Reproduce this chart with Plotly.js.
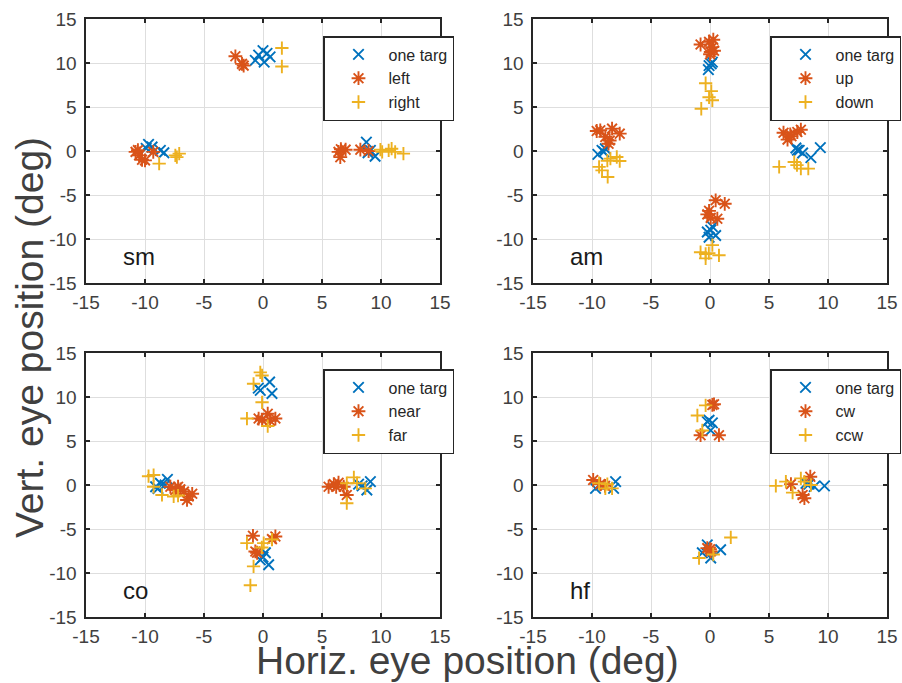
<!DOCTYPE html>
<html>
<head>
<meta charset="utf-8">
<script src="https://cdn.plot.ly/plotly-3.0.1.min.js"></script>
<style>html,body{margin:0;padding:0;background:#fff;}#chart{width:902px;height:683px;}</style>
</head>
<body>
<div id="chart"></div>
<script>
// ---- tick values / labels ----
var tickVals = [-15, -10, -5, 0, 5, 10, 15];
var tickLabels = ['-15', '-10', '-5', '0', '5', '10', '15'];

// ---- panel names and legend names ----
var panelNames = ['sm', 'am', 'co', 'hf'];
var seriesNames_sm = ['one targ', 'left', 'right'];
var seriesNames_am = ['one targ', 'up', 'down'];
var seriesNames_co = ['one targ', 'near', 'far'];
var seriesNames_hf = ['one targ', 'cw', 'ccw'];

// ---- sm ----
var sm_one_x = [0, -0.37, 0.34, 0.6, -0.65, 0.1, -9.7, -9.4, -8.7, -8.4, -9.9, 8.76, 9.1, 9.5, 8.9];
var sm_one_y = [11.4, 10.9, 11.1, 10.7, 10.3, 10.1, 0.76, 0.45, 0.08, -0.2, 0.3, 1.0, 0.08, -0.6, -0.2];
var sm_a_x = [-2.34, -1.78, -1.64, -10.8, -10.5, -10.25, -10.0, -9.3, -10.6, 6.4, 6.55, 7.0, 8.25, 8.95, 6.6];
var sm_a_y = [10.76, 9.9, 9.7, -0.1, -0.5, -1.0, -1.06, -0.1, 0.1, -0.1, -0.7, 0.15, 0.15, 0.0, 0.2];
var sm_b_x = [1.6, 1.6, -8.8, -7.43, -7.1, -7.3, 10.1, 10.65, 10.9, 11.2, 11.9, 9.95];
var sm_b_y = [11.7, 9.6, -1.44, -0.5, -0.3, -0.7, -0.1, 0.08, 0.26, -0.1, -0.3, 0.15];

// ---- am ----
var am_one_x = [-0.08, -0.14, 0.2, 0.1, -9.5, -9.15, -8.87, -9.0, 7.28, 7.56, 7.85, 8.55, 9.35, 7.4, -0.23, 0.2, 0.48, -0.08, 0.06];
var am_one_y = [9.7, 9.24, 10.1, 9.9, -0.38, 0.08, 0.26, -0.1, 0.34, 0.08, -0.23, -0.76, 0.38, 0.1, -9.2, -8.6, -9.6, -9.8, -9.0];
var am_a_x = [-0.8, -0.08, 0.28, 0.2, 0.06, 0.34, 0.0, -9.6, -9.3, -8.3, -7.65, -8.87, -8.6, -8.5, 6.23, 6.57, 6.9, 7.4, 7.7, 6.8, -0.08, 0.06, 0.48, 0.62, 1.25, -0.23];
var am_a_y = [12.1, 12.4, 12.65, 11.8, 11.25, 11.4, 11.0, 2.27, 2.35, 2.54, 1.97, 1.6, 0.83, 1.2, 2.08, 1.29, 1.67, 2.16, 2.42, 1.9, -6.8, -7.6, -5.6, -7.7, -6.0, -7.2];
var am_b_x = [-0.37, 0.11, -0.08, 0.2, -0.74, -9.4, -9.15, -8.67, -8.44, -7.9, -7.65, -8.7, 5.86, 7.14, 7.37, 7.7, 8.33, -0.8, -0.37, -0.37, 0.76, 0.2, -0.1];
var am_b_y = [7.7, 6.8, 6.1, 5.76, 4.8, -1.8, -2.2, -2.95, -0.87, -0.68, -1.14, -1.1, -1.8, -1.25, -1.6, -2.0, -2.0, -11.5, -11.7, -12.2, -11.85, -10.7, -11.6];

// ---- co ----
var co_one_x = [0.56, 0.76, -0.23, -0.4, -9.1, -8.7, -8.1, -8.3, -8.9, 8.1, 9.1, 8.8, 8.4, -0.23, 0.2, 0.48, 0.0];
var co_one_y = [11.7, 10.4, 10.75, 11.0, -0.2, 0.2, 0.64, 0.0, -0.4, 0.1, 0.38, -0.57, -0.1, -8.5, -7.7, -9.06, -8.2];
var co_a_x = [-0.37, -0.08, 0.4, 1.05, 0.6, -7.85, -7.43, -7.0, -6.7, -6.3, -6.0, -6.44, -7.2, 5.56, 6.0, 6.4, 6.84, 7.1, 6.2, -0.85, -0.65, -0.5, 1.05, 0.76];
var co_a_y = [7.55, 7.4, 8.1, 7.55, 7.3, -0.2, -0.57, -0.5, -0.75, -1.3, -1.0, -1.7, -0.2, -0.2, 0.1, 0.26, -0.2, -1.13, -0.2, -5.77, -7.55, -7.7, -5.85, -6.15];
var co_b_x = [-0.23, -0.08, -0.8, -0.08, -1.36, 0.4, -9.7, -9.27, -9.27, -8.56, -7.57, -7.2, 7.7, 7.97, 8.67, 7.1, 7.1, -1.36, -0.8, -1.07, 0.06, 0.76, -0.1];
var co_b_y = [12.8, 12.45, 11.5, 9.4, 7.55, 6.7, 1.0, 1.13, -0.2, -1.13, -1.3, -1.2, 0.87, 0.2, -0.38, 0.2, -2.07, -6.6, -9.25, -11.4, -6.6, -6.2, -7.1];

// ---- hf ----
var hf_one_x = [-0.08, 0.2, 0.06, -0.23, -9.7, -9.3, -8.0, -8.17, 8.13, 8.84, 9.7, 8.4, -0.23, -0.65, 0.06, 0.9];
var hf_one_y = [7.36, 7.06, 6.2, 7.2, -0.38, 0.0, 0.38, -0.38, 0.19, -0.19, -0.1, 0.1, -6.8, -7.7, -8.3, -7.36];
var hf_a_x = [0.34, 0.2, -0.8, 0.76, -9.9, -9.3, -8.9, 6.86, 7.85, 8.5, 8.0, -0.23, 0.06, 0.0];
var hf_a_y = [9.17, 9.1, 5.66, 5.66, 0.57, 0.1, -0.1, 0.1, -1.13, 0.94, -1.5, -7.17, -7.55, -7.3];
var hf_b_x = [-1.07, -0.37, -0.65, -9.4, -8.87, -8.3, -8.7, 5.58, 6.43, 7.0, 7.7, 8.0, 8.55, -0.93, 0.28, 1.76];
var hf_b_y = [7.9, 9.05, 6.2, 0.2, -0.38, -0.38, 0.1, -0.1, 0.38, -0.87, 0.75, 0.38, 0.0, -8.3, -7.9, -5.96];

// ---- styling ----
var FONT = 'Liberation Sans, Arial, Helvetica, sans-serif';
var colors = ['#0072BD', '#D95319', '#EDB120'];
var symbols = ['x-thin-open', 'asterisk-open', 'cross-thin-open'];
var sizes = [10.5, 11.5, 9.5];

var panels = [
  {names: seriesNames_sm, xs: [sm_one_x, sm_a_x, sm_b_x], ys: [sm_one_y, sm_a_y, sm_b_y]},
  {names: seriesNames_am, xs: [am_one_x, am_a_x, am_b_x], ys: [am_one_y, am_a_y, am_b_y]},
  {names: seriesNames_co, xs: [co_one_x, co_a_x, co_b_x], ys: [co_one_y, co_a_y, co_b_y]},
  {names: seriesNames_hf, xs: [hf_one_x, hf_a_x, hf_b_x], ys: [hf_one_y, hf_a_y, hf_b_y]}
];

var W = 902, H = 683;
// pixel boxes of the four axes [left, right, top, bottom]
var boxes = [[86, 440, 19, 283], [533, 887, 19, 283], [86, 440, 353, 617], [533, 887, 353, 617]];
var legendPos = [[323, 36], [770, 36], [323, 369], [770, 369]];

var data = [];
var layout = {
  width: W, height: H,
  margin: {l: 0, r: 0, t: 0, b: 0, autoexpand: false},
  paper_bgcolor: '#ffffff', plot_bgcolor: '#ffffff',
  font: {family: FONT, color: '#404040'},
  annotations: [],
  showlegend: true
};

panels.forEach(function (p, i) {
  var suf = i === 0 ? '' : String(i + 1);
  var legId = 'legend' + suf;
  for (var s = 0; s < 3; s++) {
    data.push({
      type: 'scatter', mode: 'markers',
      x: p.xs[s], y: p.ys[s],
      xaxis: 'x' + suf, yaxis: 'y' + suf,
      name: p.names[s],
      legend: legId,
      marker: {symbol: symbols[s], size: sizes[s], color: colors[s], line: {color: colors[s], width: 1.9}},
      cliponaxis: false
    });
  }
  var b = boxes[i];
  var axCommon = {
    range: [-15, 15], tickmode: 'array', tickvals: tickVals, ticktext: tickLabels,
    ticks: 'inside', ticklen: 4, tickwidth: 1.5, tickcolor: '#262626',
    showline: true, mirror: 'ticks', linecolor: '#262626', linewidth: 1.6,
    showgrid: true, gridcolor: '#dedede', gridwidth: 1, zeroline: false,
    tickfont: {family: FONT, size: 19, color: '#404040'},
    ticklabelstandoff: 2, fixedrange: true
  };
  var xa = Object.assign({}, axCommon, {domain: [b[0] / W, b[1] / W], anchor: 'y' + suf});
  var ya = Object.assign({}, axCommon, {domain: [1 - b[3] / H, 1 - b[2] / H], anchor: 'x' + suf, ticklabelstandoff: 4});
  layout['xaxis' + suf] = xa;
  layout['yaxis' + suf] = ya;
  layout[legId] = {
    x: legendPos[i][0] / W, y: 1 - legendPos[i][1] / H, xanchor: 'left', yanchor: 'top',
    bgcolor: '#ffffff', bordercolor: '#262626', borderwidth: 1.5,
    font: {family: FONT, size: 16, color: '#262626'},
    itemwidth: 50, indentation: 4, tracegroupgap: 0
  };
  layout.annotations.push({
    xref: 'x' + suf, yref: 'y' + suf, x: -12, y: -12, xanchor: 'left', yanchor: 'middle',
    text: panelNames[i], showarrow: false, font: {family: FONT, size: 24, color: '#1a1a1a'}
  });
});

layout.annotations.push({
  xref: 'paper', yref: 'paper', x: 29 / W, y: 1 - 338 / H, xanchor: 'center', yanchor: 'middle',
  text: 'Vert. eye position (deg)', textangle: -90, showarrow: false,
  font: {family: FONT, size: 39, color: '#404040'}
});
layout.annotations.push({
  xref: 'paper', yref: 'paper', x: 468 / W, y: 1 - 660 / H, xanchor: 'center', yanchor: 'middle',
  text: 'Horiz. eye position (deg)', showarrow: false,
  font: {family: FONT, size: 39, color: '#404040'}
});

Plotly.newPlot('chart', data, layout, {displayModeBar: false, staticPlot: true});
</script>
</body>
</html>
